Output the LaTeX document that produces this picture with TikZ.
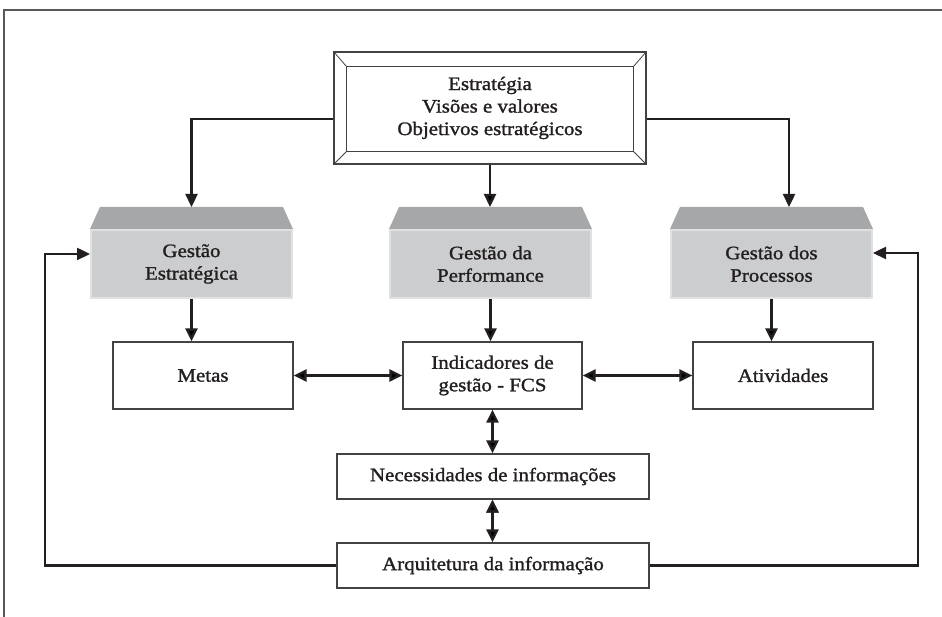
\documentclass[tikz,border=0pt]{standalone}
\usepackage{fontspec}
\setmainfont{Liberation Serif}
\newfontfamily\boxfont{Liberation Serif}[FakeBold=1.4,FakeStretch=1.1]
\usepackage[dvipsnames]{xcolor}
\usetikzlibrary{arrows.meta}
\definecolor{ink}{RGB}{35,31,32}
\definecolor{roofgray}{RGB}{166,167,169}
\definecolor{frontgray}{RGB}{204,205,207}
\definecolor{rimgray}{RGB}{224,225,226}

\begin{document}
\begin{tikzpicture}[x=1pt,y=1pt,>={Triangle[length=13pt,width=12pt]},
  link/.style={->,line width=2.4pt,draw=ink},
  box/.style={draw=ink!85,line width=1.2pt,fill=white,align=center,inner sep=0pt,text=ink,font=\boxfont\fontsize{19}{22.5}\selectfont},
  gray box/.style={box,draw=rimgray,line width=2pt,fill=frontgray,minimum width=201,minimum height=68}]
            \useasboundingbox (0,0) rectangle (942,617);
            \draw[line width=1.2pt,ink!75] (4,0) -- (4,607) -- (942,607);

            % bevelled top box
            \node[box,minimum width=312,minimum height=112] (estrat) at (490,509) {Estratégia\\Visões e valores\\Objetivos estratégicos};
            \coordinate (in-nw) at ([shift={(13,-15)}]estrat.north west);
            \coordinate (in-ne) at ([shift={(-13,-15)}]estrat.north east);
            \coordinate (in-sw) at ([shift={(13,13)}]estrat.south west);
            \coordinate (in-se) at ([shift={(-13,13)}]estrat.south east);
            \draw[ink!85,line width=1.6pt] (in-nw) rectangle (in-se);
            \draw[ink!85,line width=0.8pt] (estrat.north west) -- (in-nw) (estrat.north east) -- (in-ne)
                (estrat.south west) -- (in-sw) (estrat.south east) -- (in-se);

            % gray boxes
            \foreach \n/\x/\txt in {gs/191.5/{Gestão\\Estratégica},gp/490.5/{Gestão da\\Performance},gpr/771.5/{Gestão dos\\Processos}}{
                \node[gray box] (\n) at (\x,353) {\txt};
                \fill[roofgray] (\n.north west) -- ([shift={(10,22)}]\n.north west) -- ([shift={(-10,22)}]\n.north east) -- (\n.north east) -- cycle;
                \coordinate (\n-roof) at ([yshift=22pt]\n.north);
            }

            \node[box,minimum width=180,minimum height=67] (metas) at (203,241.5) {Metas};
            \node[box,minimum width=179,minimum height=67] (ind) at (492.5,241.5) {Indicadores de\\gestão - FCS};
            \node[box,minimum width=180,minimum height=67] (ativ) at (783,241.5) {Atividades};
            \node[box,minimum width=312,minimum height=45] (nec) at (493,140.5) {Necessidades de informações};
            \node[box,minimum width=312,minimum height=45] (arq) at (493,51.5) {Arquitetura da informação};

            \draw[link] ([yshift=-11pt]estrat.west) -| (gs-roof);
            \draw[link] ([yshift=-11pt]estrat.east) -| ([xshift=17.5pt]gpr-roof);
            \path[link]
                (estrat.south) edge (estrat.south |- gp-roof)
                (gs.south) edge (gs.south |- metas.north)
                (gp.south) edge (gp.south |- ind.north)
                (gpr.south) edge (gpr.south |- ativ.north)
                (metas.east) edge[<->] (ind.west)
                (ind.east) edge[<->] (ativ.west)
                (ind.south) edge[<->] (ind.south |- nec.north)
                (ind.south |- nec.south) edge[<->] (ind.south |- arq.north)
                ;
            \draw[link] (arq.west) -| ([shift={(-45,10)}]gs.west) -- ([yshift=10pt]gs.west);
            \draw[link] (arq.east) -| ([shift={(45,11)}]gpr.east) -- ([yshift=11pt]gpr.east);
        \end{tikzpicture}
\end{document}
